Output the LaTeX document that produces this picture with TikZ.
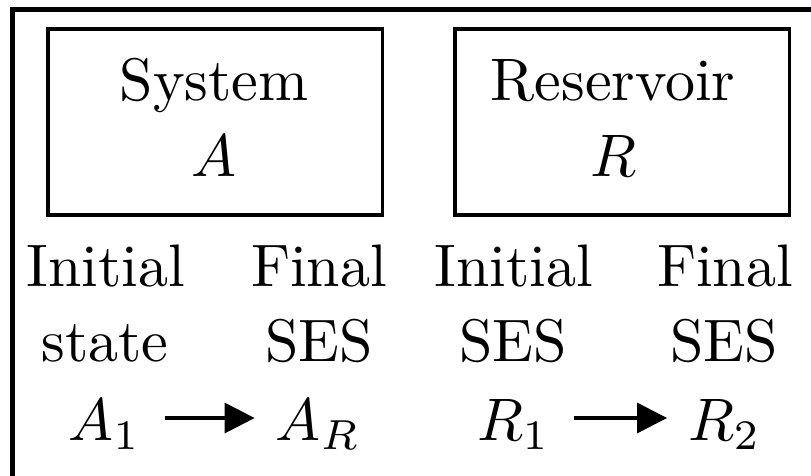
\documentclass[tikz,border=0pt]{standalone}
\usetikzlibrary{arrows.meta}
\begin{document}
\begin{tikzpicture}[x=0.3pt,y=-0.3pt,
  frame/.style={line width=1.4pt},
  bigbox/.style={draw,line width=1pt,minimum width=100.35pt,minimum height=55.8pt,inner sep=0pt},
  txt/.style={font=\fontsize{10}{12}\selectfont,inner sep=0pt,anchor=base,scale=1.8,transform shape},
  arr/.style={-{Triangle[length=9pt,width=9pt]},line width=1pt,shorten <=6.9pt,shorten >=6pt}]
\clip (0,0) rectangle (811,475);
\draw[frame] (12.5,520) -- (12.5,9.5) -- (860,9.5);
% boxes
\node[bigbox] (sys) at (215.25,122) {};
\node[txt] (systxt) at (214,100) {System};
\node[txt] (sysa) at (214,176) {$A$};
\node[bigbox] (res) at (622.25,122) {};
\node[txt] (restxt) at (613,100) {Reservoir};
\node[txt] (resr) at (613,176) {$R$};
% row 1
\node[txt] (i1) at (106,286) {Initial};
\node[txt] (f1) at (319,286) {Final};
\node[txt] (i2) at (514,286) {Initial};
\node[txt] (f2) at (725,286) {Final};
% row 2
\node[txt] (s1) at (105,361) {state};
\node[txt] (s2) at (319,361) {SES};
\node[txt] (s3) at (513,361) {SES};
\node[txt] (s4) at (724,361) {SES};
% row 3
\node[txt] (a1) at (104.5,440) {$A_1$};
\node[txt] (ar) at (318,440) {$A_R$};
\node[txt] (r1) at (513.5,440) {$R_1$};
\node[txt] (r2) at (724.5,440) {$R_2$};
\draw[arr] ([yshift=6.6pt]a1.base east) -- ([yshift=6.6pt]ar.base west);
\draw[arr] ([yshift=6.6pt]r1.base east) -- ([yshift=6.6pt]r2.base west);
\end{tikzpicture}
\end{document}
